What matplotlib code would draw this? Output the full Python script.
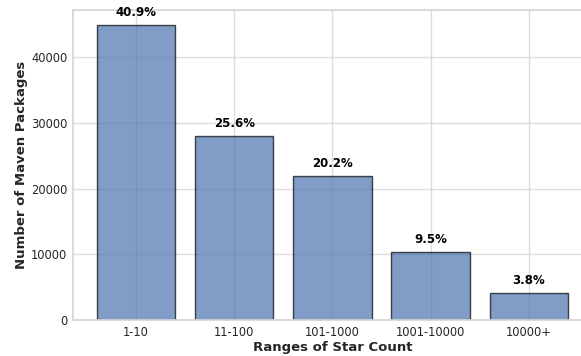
import matplotlib
matplotlib.use("Agg")
import matplotlib.pyplot as plt
import seaborn as sns

categories = ["1-10", "11-100", "101-1000", "1001-10000", "10000+"]
counts = [44900, 28000, 21900, 10350, 4100]
percent_labels = ["40.9%", "25.6%", "20.2%", "9.5%", "3.8%"]

sns.set_theme(style="whitegrid")
plt.rcParams['font.family'] = ['DejaVu Sans']

fig = plt.figure(figsize=(5.81, 3.56), dpi=100)
ax = fig.add_axes([0.1256, 0.101, 0.893, 0.871])
ax.grid(True, color="#cccccc", alpha=0.65, linewidth=1)
bars = ax.bar(categories, counts, color="#4c72b0", alpha=0.7, edgecolor="black", linewidth=1)
for b, lab in zip(bars, percent_labels):
    ax.text(b.get_x() + b.get_width() / 2, b.get_height() + 900, lab,
            ha="center", va="bottom", fontsize=8.5, fontweight="bold", color="black")
ax.set_xlabel("Ranges of Star Count", fontsize=9.5, fontweight="bold", labelpad=2)
ax.set_ylabel("Number of Maven Packages", fontsize=9.5, fontweight="bold", labelpad=2)
ax.tick_params(axis="both", labelsize=8.3, pad=4, length=0)
for s in ax.spines.values():
    s.set_color("#d5d5d5")
ax.set_ylim(0, 47150)
ax.set_xlim(-0.64, 4.64)
fig.savefig("out.png", dpi=100)
